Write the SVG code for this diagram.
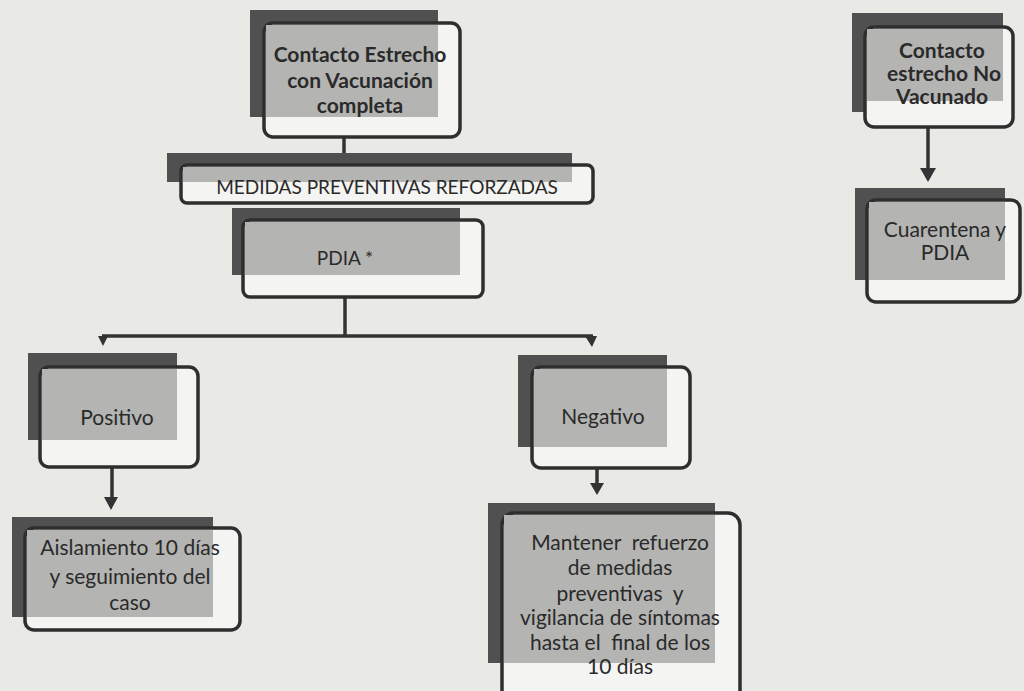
<svg xmlns="http://www.w3.org/2000/svg" width="1024" height="691" viewBox="0 0 1024 691">
<defs>
<style>
.back{fill:#505050;}
.front{fill:#f4f4f2;stroke:#2e2e2e;stroke-width:3.5;}
.ov{fill:#b4b4b2;}
.t{font-family:Lato,"Open Sans","Liberation Sans",sans-serif;font-size:21px;fill:#2a2a2a;text-anchor:middle;}
.b{font-weight:bold;}
.s{font-size:19px;}
.ln{stroke:#333;stroke-width:3.5;fill:none;}
</style>
</defs>
<rect width="1024" height="691" fill="#e9e9e6"/>
<g id="connectors">
<path class="ln" d="M344,137 V153"/>
<path class="ln" d="M345,297 V336"/>
<path class="ln" d="M102,336 H593"/>
<path d="M98,336 L108,336 L103,346 Z" fill="#333"/>
<path d="M585,336 L597,336 L592,347 Z" fill="#333"/>
<path class="ln" d="M928,127 V170"/>
<path d="M920,168 L936,168 L928,182 Z" fill="#333"/>
<path class="ln" d="M112,467 V500"/>
<path d="M104,497 L118,497 L111,510 Z" fill="#333"/>
<path class="ln" d="M597,468 V485"/>
<path d="M590,483 L604,483 L597,495 Z" fill="#333"/>
</g>
<g id="n1">
<rect class="back" x="250" y="10" width="188" height="107"/>
<rect class="front" x="264" y="23" width="196" height="114" rx="9"/>
<rect class="ov" x="266" y="25" width="172" height="92"/>
<text class="t b" x="360" y="62">Contacto Estrecho</text>
<text class="t b" x="360" y="88">con Vacunación</text>
<text class="t b" x="360" y="113">completa</text>
</g>
<g id="n2">
<rect class="back" x="167" y="153" width="405" height="29"/>
<rect class="front" x="181" y="165" width="412" height="38" rx="6"/>
<rect class="ov" x="183" y="167" width="389" height="15"/>
<text class="t s" x="387" y="194">MEDIDAS PREVENTIVAS REFORZADAS</text>
</g>
<g id="n3">
<rect class="back" x="232" y="208" width="228" height="67"/>
<rect class="front" x="243" y="220" width="240" height="77" rx="7"/>
<rect class="ov" x="245" y="222" width="215" height="53"/>
<text class="t s" x="345" y="265">PDIA  *</text>
</g>
<g id="n4">
<rect class="back" x="852" y="13" width="151" height="99"/>
<rect class="front" x="865" y="27" width="148" height="100" rx="9"/>
<rect class="ov" x="867" y="29" width="136" height="72"/>
<text class="t b" x="942" y="58">Contacto</text>
<text class="t b" x="944" y="81">estrecho No</text>
<text class="t b" x="942" y="104">Vacunado</text>
</g>
<g id="n5">
<rect class="back" x="855" y="188" width="150" height="92"/>
<rect class="front" x="867" y="200" width="153" height="102" rx="9"/>
<rect class="ov" x="869" y="202" width="136" height="78"/>
<text class="t" x="945" y="237">Cuarentena y</text>
<text class="t" x="945" y="260">PDIA</text>
</g>
<g id="n6">
<rect class="back" x="28" y="353" width="149" height="87"/>
<rect class="front" x="40" y="367" width="158" height="100" rx="9"/>
<rect class="ov" x="42" y="369" width="135" height="71"/>
<text class="t" x="117" y="425">Positivo</text>
</g>
<g id="n7">
<rect class="back" x="518" y="355" width="149" height="92"/>
<rect class="front" x="532" y="367" width="158" height="101" rx="9"/>
<rect class="ov" x="534" y="369" width="133" height="78"/>
<text class="t" x="603" y="424">Negativo</text>
</g>
<g id="n8">
<rect class="back" x="12" y="517" width="201" height="100"/>
<rect class="front" x="25" y="528" width="215" height="102" rx="9"/>
<rect class="ov" x="27" y="530" width="186" height="87"/>
<text class="t" x="130" y="555">Aislamiento 10 días</text>
<text class="t" x="130" y="584">y seguimiento del</text>
<text class="t" x="130" y="610">caso</text>
</g>
<g id="n9">
<rect class="back" x="488" y="503" width="227" height="160"/>
<rect class="front" x="502" y="513" width="238" height="190" rx="12"/>
<rect class="ov" x="504" y="515" width="211" height="148"/>
<text class="t" x="620" y="550" xml:space="preserve">Mantener  refuerzo</text>
<text class="t" x="620" y="575">de medidas</text>
<text class="t" x="620" y="601" xml:space="preserve">preventivas  y</text>
<text class="t" x="620" y="625">vigilancia de síntomas</text>
<text class="t" x="620" y="650" xml:space="preserve">hasta el  final de los</text>
<text class="t" x="620" y="674">10 días</text>
</g>
</svg>
